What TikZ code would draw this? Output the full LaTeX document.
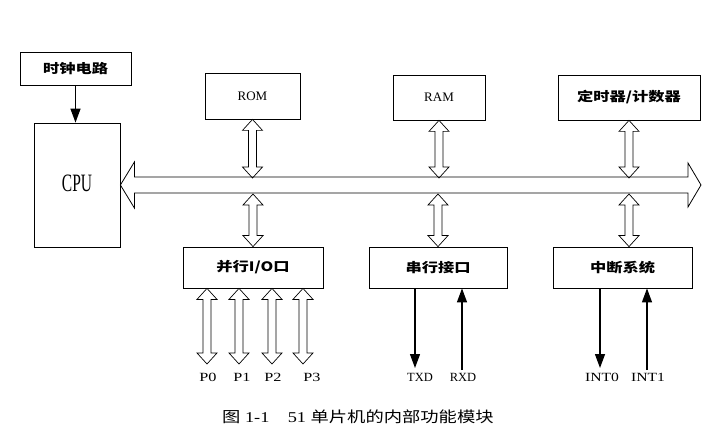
\documentclass[tikz,border=0pt]{standalone}
\usepackage{fontspec}
\setmainfont{Liberation Serif}
\newfontfamily\cjk{Noto Sans CJK SC}
\usetikzlibrary{calc,arrows.meta}
\newcommand{\hs}[2]{\scalebox{#1}[1]{#2}}
\newcommand{\cn}[1]{\hs{1.25}{\fontsize{13}{15}\selectfont\cjk\bfseries #1}}
\begin{document}
\begin{tikzpicture}[x=1pt,y=-1pt,
  box/.style={draw,line width=0.8pt,inner sep=0pt},
  lbl/.style={inner sep=0pt,font=\fontsize{12.5}{14}\selectfont},
  sarrow/.style={line width=1.3pt,-{Triangle[length=14pt,width=10pt]}},
  hollow/.style={line width=0.7pt,to path={let \p1=(\tikztostart),\p2=(\tikztotarget) in
    (\x1,\y1) -- (\x1+10pt,\y1-11pt) -- (\x1+4pt,\y1-11pt) -- (\x1+4pt,\y2+11pt)
    -- (\x1+10pt,\y2+11pt) -- (\x1,\y2) -- (\x1-10pt,\y2+11pt) -- (\x1-4pt,\y2+11pt)
    -- (\x1-4pt,\y1-11pt) -- (\x1-10pt,\y1-11pt) -- cycle}},
  busarrow/.style={line width=0.8pt,to path={let \p1=(\tikztostart),\p2=(\tikztotarget) in
    (\x1,\y1) -- (\x1+14pt,\y1+23pt) -- (\x1+14pt,\y1+8pt) -- (\x2-13pt,\y1+8pt)
    -- (\x2-13pt,\y1+22pt) -- (\x2,\y1) -- (\x2-13pt,\y1-22pt) -- (\x2-13pt,\y1-8pt)
    -- (\x1+14pt,\y1-8pt) -- (\x1+14pt,\y1-23pt) -- cycle}}]
\useasboundingbox (0,0) rectangle (705,441);

% boxes
\node[box,minimum width=111pt,minimum height=33pt] (clk) at (75.5,68.5) {\cn{时钟电路}};
\node[box,minimum width=86pt,minimum height=124pt] (cpu) at (77,185) {};
\node[inner sep=0pt] (cputxt) at (77,183) {\hs{0.62}{\fontsize{25}{28}\selectfont CPU}};
\node[box,minimum width=95pt,minimum height=46pt] (rom) at (252.5,96) {\fontsize{13}{15}\selectfont ROM};
\node[box,minimum width=92pt,minimum height=45pt] (ram) at (439,97.5) {\fontsize{13}{15}\selectfont RAM};
\node[box,minimum width=142pt,minimum height=45pt] (tim) at (629,97.5) {\cn{定时器/计数器}};
\node[box,minimum width=140pt,minimum height=41pt] (par) at (253,267.5) {\cn{并行I/O口}};
\node[box,minimum width=138pt,minimum height=41pt] (ser) at (438,267.5) {\cn{串行接口}};
\node[box,minimum width=139pt,minimum height=41pt] (int) at (622.5,267.5) {\cn{中断系统}};

% bus
\coordinate (busR) at (701,186);
\coordinate (bustop) at (0,178);
\coordinate (busbot) at (0,194);
\draw[busarrow] (cpu.east) to (busR);

% clock arrow
\draw[sarrow] (clk.south) -- (clk.south |- cpu.north);

% bus connections
\draw[hollow] (rom.south) to (rom.south |- bustop);
\draw[hollow] (par.north |- busbot) to (par.north);
\draw[hollow] (ram.south) to (ram.south |- bustop);
\draw[hollow] (ser.north |- busbot) to (ser.north);
\draw[hollow] (tim.south) to (tim.south |- bustop);
\draw[hollow] (tim.south |- busbot) to (tim.south |- int.north);

% port labels
\node[lbl] (p0) at (208,377) {\hs{1.3}{P0}};
\node[lbl] (p1) at (242,377) {\hs{1.3}{P1}};
\node[lbl] (p2) at (273,377) {\hs{1.3}{P2}};
\node[lbl] (p3) at (312,377) {\hs{1.3}{P3}};
\coordinate (e0) at (207,364);
\coordinate (e1) at (239,364);
\coordinate (e2) at (272,364);
\coordinate (e3) at (303,364);
\draw[hollow] (par.south -| e0) to (e0);
\draw[hollow] (par.south -| e1) to (e1);
\draw[hollow] (par.south -| e2) to (e2);
\draw[hollow] (par.south -| e3) to (e3);

\node[lbl] (txd) at (420,377) {TXD};
\node[lbl] (rxd) at (463,377) {RXD};
\node[lbl] (int0) at (602,377) {\hs{1.25}{INT0}};
\node[lbl] (int1) at (648,377) {\hs{1.25}{INT1}};
\coordinate (t1) at (415,368);
\coordinate (r1) at (462,370);
\coordinate (i0) at (600,368);
\coordinate (i1) at (647,370);
\draw[sarrow] (ser.south -| t1) -- (t1);
\draw[sarrow] (r1) -- (ser.south -| r1);
\draw[sarrow] (int.south -| i0) -- (i0);
\draw[sarrow] (i1) -- (int.south -| i1);

% caption
\node[inner sep=0pt,anchor=west] (cap) at (222,417)
  {\hs{1.22}{\fontsize{15}{17}\selectfont{\cjk 图} 1-1\hspace{1em}51 {\cjk 单片机的内部功能模块}}};
\end{tikzpicture}
\end{document}
